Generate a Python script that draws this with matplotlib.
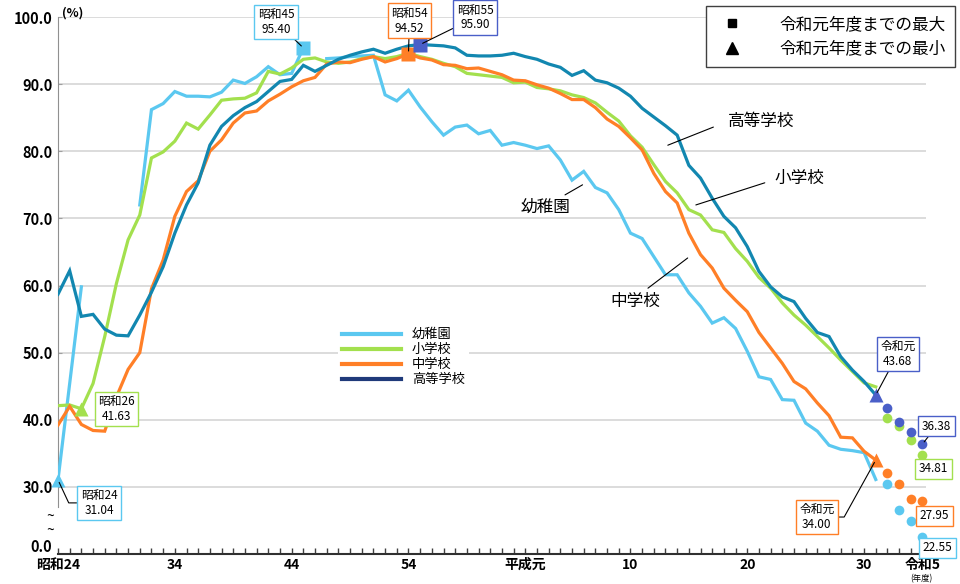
import numpy as np
import matplotlib
matplotlib.use('Agg')
import matplotlib.pyplot as plt
from matplotlib.lines import Line2D

plt.rcParams['font.family'] = ['Noto Sans CJK JP', 'DejaVu Sans']

# data
years = np.arange(1949, 2020)
kinder = [31.04, 45.4, 59.8, np.nan, np.nan, np.nan, np.nan, 72.0, 86.2, 87.1,
          88.9, 88.2, 88.2, 88.1, 88.8, 90.6, 90.1, 91.1, 92.6, 91.4,
          91.6, 95.40, np.nan, 93.8, 93.9, 94.1, 94.2, 94.3, 88.4, 87.5,
          89.1, 86.6, 84.4, 82.4, 83.6, 83.9, 82.6, 83.1, 80.9, 81.3,
          80.9, 80.4, 80.8, 78.7, 75.7, 77.0, 74.6, 73.8, 71.3, 67.8,
          67.0, 64.3, 61.6, 61.6, 58.9, 56.9, 54.4, 55.2, 53.6, 50.2,
          46.4, 46.0, 43.0, 42.9, 39.5, 38.3, 36.2, 35.6, 35.4, 35.1,
          31.1]
elem = [42.1, 42.2, 41.63, 45.4, 52.4, 60.3, 66.8, 70.5, 79.0, 79.9,
        81.5, 84.2, 83.3, 85.4, 87.6, 87.8, 87.9, 88.7, 91.9, 91.5,
        92.4, 93.7, 93.9, 93.3, 93.1, 93.3, 93.8, 94.1, 93.8, 94.1,
        94.6, 94.1, 93.7, 93.1, 92.6, 91.6, 91.4, 91.2, 91.0, 90.2,
        90.3, 89.5, 89.3, 89.0, 88.4, 88.0, 87.2, 85.8, 84.5, 82.3,
        80.6, 78.0, 75.5, 73.8, 71.3, 70.5, 68.3, 67.9, 65.5, 63.6,
        61.2, 59.6, 57.4, 55.6, 54.1, 52.4, 50.7, 48.9, 47.2, 45.5,
        44.9]
junior = [39.2, 42.0, 39.3, 38.4, 38.3, 43.4, 47.5, 50.0, 59.5, 63.8,
          70.3, 74.0, 75.6, 80.0, 81.7, 84.2, 85.7, 86.0, 87.5, 88.5,
          89.6, 90.5, 91.0, 93.0, 93.3, 93.2, 93.7, 94.1, 93.3, 93.8,
          94.52, 93.9, 93.6, 92.9, 92.8, 92.3, 92.4, 91.9, 91.4, 90.6,
          90.5, 89.9, 89.4, 88.6, 87.7, 87.7, 86.5, 84.8, 83.7, 82.0,
          80.2, 76.7, 74.0, 72.3, 67.8, 64.6, 62.6, 59.6, 57.8, 56.1,
          53.0, 50.7, 48.4, 45.7, 44.6, 42.5, 40.6, 37.4, 37.3, 35.3,
          34.00]
high = [58.7, 62.2, 55.4, 55.7, 53.5, 52.6, 52.5, 55.6, 59.0, 62.8,
        67.8, 72.0, 75.3, 80.9, 83.7, 85.3, 86.5, 87.4, 88.9, 90.4,
        90.7, 92.8, 91.9, 92.8, 93.7, 94.3, 94.8, 95.2, 94.6, 95.2,
        95.7, 95.90, 95.8, 95.7, 95.4, 94.3, 94.2, 94.2, 94.3, 94.6,
        94.1, 93.7, 93.0, 92.5, 91.3, 92.0, 90.6, 90.2, 89.4, 88.2,
        86.4, 85.1, 83.8, 82.4, 77.9, 76.0, 73.0, 70.3, 68.6, 65.8,
        62.1, 59.8, 58.3, 57.6, 55.1, 53.0, 52.4, 49.4, 47.4, 45.7,
        43.68]

# 令和2-5 (dots)
proj_years = [2020, 2021, 2022, 2023]
kinder_proj = [30.4, 26.6, 24.9, 22.55]
elem_proj = [40.3, 39.1, 37.0, 34.81]
junior_proj = [32.1, 30.4, 28.2, 27.95]
high_proj = [41.8, 39.7, 38.2, 36.38]

names = ['幼稚園', '小学校', '中学校', '高等学校']
line_colors = ['#5BC8F0', '#A3E04E', '#FF7F27', '#1287B0']
mark_colors = ['#5BC8F0', '#A3E04E', '#FF7F27', '#4A5FC8']
legend_colors = ['#5BC8F0', '#A3E04E', '#FF7F27', '#1F3A7A']

tick_years = [1949, 1959, 1969, 1979, 1989, 1998, 2008, 2018, 2023]
tick_labels = ['昭和24', '34', '44', '54', '平成元', '10', '20', '30', '令和5']
y_ticks = [21.3, 30, 40, 50, 60, 70, 80, 90, 100]
y_labels = ['0.0', '30.0', '40.0', '50.0', '60.0', '70.0', '80.0', '90.0', '100.0']

fig = plt.figure(figsize=(9.6, 5.84), dpi=100)
ax = fig.add_axes([58 / 960, 1 - 554 / 584, (926 - 58) / 960, (554 - 17) / 584])
ax.set_xlim(1949, 2023.3)
ax.set_ylim(20, 100)

series = [kinder, elem, junior, high]
projs = [kinder_proj, elem_proj, junior_proj, high_proj]
for s, p, lc, mc in zip(series, projs, line_colors, mark_colors):
    ax.plot(years, s, color=lc, lw=2.3, solid_joinstyle='miter', zorder=3)
    ax.plot(proj_years, p, 'o', color=mc, ms=7, mec='none', zorder=4, clip_on=False)

def era(y):
    if y < 1989:
        return '昭和%d' % (y - 1925)
    if y < 2019:
        return '平成%d' % (y - 1988)
    return '令和元' if y == 2019 else '令和%d' % (y - 2018)

# max / min markers with labels
ann = []  # (series idx, kind, offset px, connection)
ann.append((0, 'max', (-27, 26), 'arc3'))
ann.append((0, 'min', (41, -23), 'angle,angleA=0,angleB=115,rad=0'))
ann.append((1, 'min', (35, 0), None))
ann.append((2, 'max', (1, 33), 'arc3'))
ann.append((2, 'min', (-59, -57), 'angle,angleA=0,angleB=61,rad=0'))
ann.append((3, 'max', (55, 27), 'arc3'))
ann.append((3, 'min', (22, 41), 'arc3'))
for i, kind, off, conn in ann:
    arr = np.array(series[i], dtype=float)
    j = np.nanargmax(arr) if kind == 'max' else np.nanargmin(arr)
    ax.plot(years[j], arr[j], 's' if kind == 'max' else '^', color=mark_colors[i],
            ms=10, mec='none', zorder=5, clip_on=False)
    ap = None
    if conn:
        ap = dict(arrowstyle='-', color='black', lw=0.8, shrinkA=0, shrinkB=2,
                  connectionstyle=conn)
    ax.annotate('%s\n%.2f' % (era(years[j]), arr[j]), xy=(years[j], arr[j]),
                xytext=off, textcoords='offset pixels', ha='center', va='center',
                fontsize=8.5, linespacing=1.15, zorder=6, annotation_clip=False,
                bbox=dict(boxstyle='square,pad=0.3', fc='white', ec=mark_colors[i], lw=1),
                arrowprops=ap)

# labels for last dots
dot_ann = [(3, (14, 18), True), (1, (11, -14), False), (2, (12, -15), False), (0, (15, -11), False)]
for i, off, line in dot_ann:
    v = projs[i][-1]
    ax.annotate('%.2f' % v, xy=(proj_years[-1], v), xytext=off, textcoords='offset pixels',
                ha='center', va='center', fontsize=8.5, zorder=6, annotation_clip=False,
                bbox=dict(boxstyle='square,pad=0.3', fc='white', ec=mark_colors[i], lw=1),
                arrowprops=dict(arrowstyle='-', color='black', lw=0.8, shrinkA=0, shrinkB=2) if line else None)

# series name labels with leader lines
name_pos = [(1990.7, 71.7), (2012.5, 76.0), (1998.4, 57.6), (2009.2, 84.4)]
leaders = [((1992.4, 73.5), (1993.9, 75.0)), ((2009.5, 75.3), (2003.6, 72.0)),
           ((1999.5, 59.6), (2002.9, 64.1)), ((2005.1, 83.6), (2001.2, 80.9))]
for nm, pos, (a, b) in zip(names, name_pos, leaders):
    ax.text(pos[0], pos[1], nm, fontsize=12, ha='center', va='center', zorder=6)
    ax.annotate('', xy=b, xytext=a, arrowprops=dict(arrowstyle='-', color='black', lw=0.8,
                                                     shrinkA=0, shrinkB=0))

# axes styling
ax.set_yticks(y_ticks)
ax.set_yticklabels(y_labels, fontsize=10.5, fontweight='bold')
ax.set_xticks(tick_years)
ax.set_xticklabels(tick_labels, fontsize=10, fontweight='bold')
ax.set_xticks(np.arange(1949, 2024), minor=True)
ax.tick_params(axis='x', which='both', direction='in', length=4, width=1, color='#404040', pad=3)
ax.tick_params(axis='y', direction='in', length=3, color='#a0a0a0', pad=4)
ax.grid(axis='y', color='#d9d9d9', lw=1.3)
ax.get_ygridlines()[0].set_visible(False)
ax.yaxis.get_major_ticks()[0].tick1line.set_visible(False)
ax.set_axisbelow(True)
for sp in ['top', 'right']:
    ax.spines[sp].set_visible(False)
ax.spines['left'].set_bounds(27, 100)
ax.spines['left'].set_color('#909090')
ax.spines['bottom'].set_color('#303030')
ax.spines['bottom'].set_linewidth(1.5)

fig.text(73 / 960, 1 - 13 / 584, '(%)', fontsize=9, ha='center', va='center', fontweight='bold')
fig.text(50 / 960, 1 - 517 / 584, '~', fontsize=10, ha='center', va='center')
fig.text(50 / 960, 1 - 531 / 584, '~', fontsize=10, ha='center', va='center')
fig.text(921 / 960, 1 - 578.5 / 584, '(年度)', fontsize=6, ha='center', va='center')

# legends
h1 = [Line2D([], [], color=c, lw=3) for c in legend_colors]
leg1 = ax.legend(h1, names, loc='upper left', bbox_to_anchor=(0.315, 0.44), frameon=True,
                 framealpha=1, edgecolor='none', fontsize=9.5, handlelength=4.5,
                 labelspacing=0.15, handletextpad=0.8, borderpad=0.3)
ax.add_artist(leg1)
h2 = [Line2D([], [], marker='s', color='black', ls='none', ms=6),
      Line2D([], [], marker='^', color='black', ls='none', ms=9)]
leg2 = fig.legend(h2, ['令和元年度までの最大', '令和元年度までの最小'], loc='upper right',
                  bbox_to_anchor=(0.995, 0.99), fontsize=12, frameon=True, fancybox=False,
                  edgecolor='#404040', framealpha=1, borderpad=0.6, handletextpad=1.8,
                  labelspacing=0.45, borderaxespad=0)
leg2.get_frame().set_linewidth(1)

fig.savefig('out.png', dpi=100)
